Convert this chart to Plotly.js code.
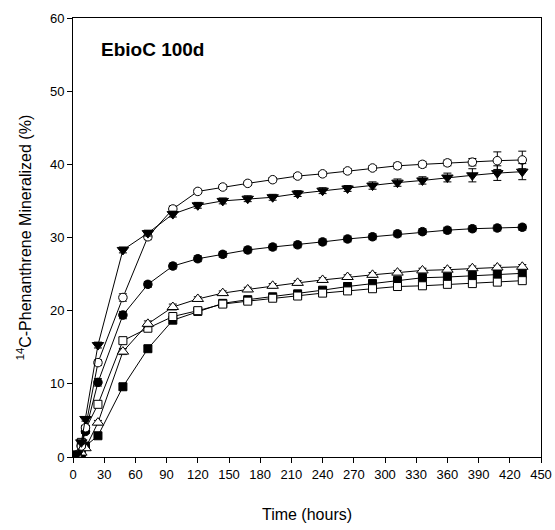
<!DOCTYPE html>
<html>
<head>
<meta charset="utf-8">
<script src="https://cdn.plot.ly/plotly-3.0.1.min.js"></script>
<style>html,body{margin:0;padding:0;background:#fff;}#chart{width:555px;height:530px;}</style>
</head>
<body>
<div id="chart"></div>
<script>
const timeHours = [0, 4, 8, 12, 24, 48, 72, 96, 120, 144, 168, 192, 216, 240, 264, 288, 312, 336, 360, 384, 408, 432];

const openCircle   = [0, 0.3, 1.5, 4.0, 12.9, 21.8, 30.1, 33.9, 36.3, 36.9, 37.4, 37.9, 38.4, 38.7, 39.1, 39.5, 39.8, 40.0, 40.2, 40.3, 40.5, 40.6];
const downTriangle = [0, 0.4, 2.0, 5.2, 15.3, 28.3, 30.6, 33.2, 34.4, 35.0, 35.3, 35.5, 36.0, 36.4, 36.7, 37.1, 37.5, 37.8, 38.2, 38.5, 38.8, 39.0];
const filledCircle = [0, 0.3, 1.5, 3.5, 10.2, 19.4, 23.6, 26.1, 27.1, 27.7, 28.3, 28.7, 29.0, 29.4, 29.8, 30.1, 30.5, 30.8, 31.0, 31.2, 31.3, 31.4];
const openTriangle = [0, 0.2, 0.6, 1.2, 4.7, 14.4, 18.2, 20.5, 21.6, 22.4, 22.9, 23.4, 23.8, 24.2, 24.6, 24.9, 25.2, 25.5, 25.6, 25.8, 25.9, 26.0];
const filledSquare = [0, 0.2, 0.5, 1.5, 2.9, 9.6, 14.8, 18.7, 19.9, 21.0, 21.5, 21.9, 22.3, 22.8, 23.3, 23.7, 24.1, 24.5, 24.6, 24.8, 25.0, 25.1];
const openSquare   = [0, 0.3, 2.0, 3.8, 7.2, 15.9, 17.6, 19.2, 20.0, 20.9, 21.3, 21.7, 22.0, 22.4, 22.7, 23.0, 23.3, 23.4, 23.6, 23.7, 23.9, 24.1];

const errOpenCircle   = [0, 0.1, 0.2, 0.3, 0.4, 0.5, 0.4, 0.4, 0.3, 0.3, 0.3, 0.3, 0.3, 0.3, 0.3, 0.3, 0.4, 0.4, 0.4, 0.5, 1.2, 1.2];
const errDownTriangle = [0, 0.1, 0.2, 0.3, 0.4, 0.4, 0.4, 0.4, 0.4, 0.4, 0.4, 0.4, 0.4, 0.4, 0.4, 0.5, 0.5, 0.5, 0.6, 0.9, 1.0, 1.1];
const errFilledCircle = [0, 0.1, 0.2, 0.3, 0.5, 0.5, 0.4, 0.4, 0.4, 0.4, 0.4, 0.4, 0.4, 0.4, 0.4, 0.4, 0.4, 0.4, 0.4, 0.4, 0.4, 0.4];
const errOpenTriangle = [0, 0.1, 0.1, 0.2, 0.3, 0.4, 0.4, 0.4, 0.3, 0.3, 0.3, 0.3, 0.3, 0.3, 0.3, 0.3, 0.3, 0.3, 0.3, 0.3, 0.3, 0.3];
const errFilledSquare = [0, 0.1, 0.1, 0.2, 0.3, 0.4, 0.4, 0.4, 0.4, 0.4, 0.4, 0.4, 0.4, 0.4, 0.5, 0.5, 0.5, 0.5, 0.5, 0.5, 0.5, 0.5];
const errOpenSquare   = [0, 0.1, 0.2, 0.2, 0.3, 0.4, 0.4, 0.4, 0.3, 0.3, 0.3, 0.3, 0.3, 0.3, 0.3, 0.3, 0.3, 0.3, 0.3, 0.3, 0.3, 0.3];

const xTickVals = [0, 30, 60, 90, 120, 150, 180, 210, 240, 270, 300, 330, 360, 390, 420, 450];
const yTickVals = [0, 10, 20, 30, 40, 50, 60];
const chartTitle = "EbioC 100d";
const xTitle = "Time (hours)";
const yTitle = "<sup>14</sup>C-Phenanthrene Mineralized (%)";

const FONT = "Liberation Sans, Arial, sans-serif";

function series(y, err, symbol, fill, size) {
  return {
    x: timeHours, y: y, type: "scatter", mode: "lines+markers",
    line: {color: "#000", width: 1},
    marker: {symbol: symbol, size: size, color: fill, line: {color: "#000", width: 1}},
    error_y: {type: "data", array: err, visible: true, color: "#000", thickness: 1, width: 4},
    showlegend: false, hoverinfo: "skip"
  };
}

const traces = [
  series(filledSquare, errFilledSquare, "square", "#000", 8),
  series(openSquare, errOpenSquare, "square", "#fff", 8),
  series(openTriangle, errOpenTriangle, "triangle-up", "#fff", 10),
  series(filledCircle, errFilledCircle, "circle", "#000", 8.5),
  series(openCircle, errOpenCircle, "circle", "#fff", 8.5),
  series(downTriangle, errDownTriangle, "triangle-down", "#000", 10)
];

const layout = {
  width: 555, height: 530,
  margin: {l: 73, r: 14, t: 18, b: 73, pad: 0},
  paper_bgcolor: "#fff", plot_bgcolor: "#fff",
  font: {family: FONT, size: 13, color: "#000"},
  xaxis: {
    range: [0, 450], tickvals: xTickVals, ticktext: xTickVals.map(String),
    showgrid: false, zeroline: false, showline: true, mirror: true,
    linecolor: "#000", linewidth: 1, ticks: "outside", ticklen: 5, tickcolor: "#000",
    tickfont: {family: FONT, size: 13},
    title: {text: xTitle, font: {family: FONT, size: 16}, standoff: 28}
  },
  yaxis: {
    range: [0, 60], tickvals: yTickVals, ticktext: yTickVals.map(String),
    showgrid: false, zeroline: false, showline: true, mirror: true,
    linecolor: "#000", linewidth: 1, ticks: "outside", ticklen: 5, tickcolor: "#000",
    tickfont: {family: FONT, size: 13},
    title: {text: yTitle, font: {family: FONT, size: 16}, standoff: 14}
  },
  annotations: [{
    text: "<b>" + chartTitle + "</b>", xref: "paper", yref: "paper",
    x: 0.055, y: 0.928, xanchor: "left", yanchor: "middle", showarrow: false,
    font: {family: FONT, size: 19, color: "#000"}
  }]
};

Plotly.newPlot("chart", traces, layout, {staticPlot: true, displayModeBar: false});
</script>
</body>
</html>
